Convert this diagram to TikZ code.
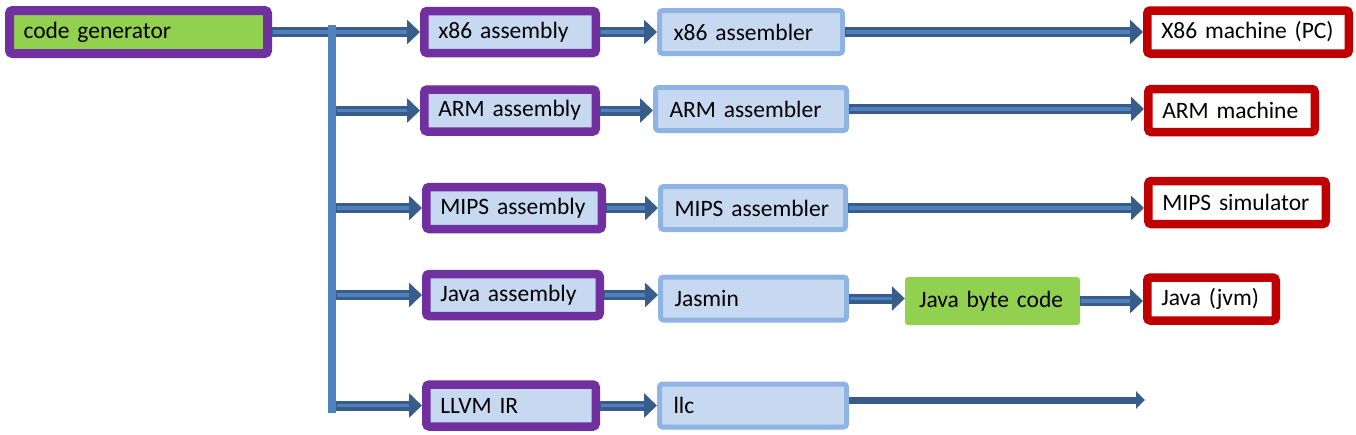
\documentclass[tikz,border=0pt]{standalone}
\usepackage{fontspec}
\setmainfont{Carlito}
\usepackage{tikz}
\usetikzlibrary{positioning, calc, arrows.meta}
\definecolor{genpurple}{HTML}{7030A0}
\definecolor{gengreen}{HTML}{92D050}
\definecolor{toolfill}{HTML}{C6D9F1}
\definecolor{tooledge}{HTML}{8EB4E3}
\definecolor{machred}{HTML}{C00000}
\definecolor{flowdark}{HTML}{385D8A}
\definecolor{flowlight}{HTML}{4F81BD}
\tikzset{
  box/.style={rounded corners=3pt, inner xsep=14pt, inner ysep=0pt, align=left,
    font=\fontsize{23.5}{28}\selectfont},
  gen/.style={box, draw=genpurple, line width=9pt, fill=gengreen, text width=#1, minimum height=43pt},
  asm/.style={box, draw=genpurple, line width=8.5pt, fill=toolfill, text width=#1, minimum height=42pt},
  tool/.style={box, draw=tooledge, line width=5pt, fill=toolfill, text width=#1, minimum height=43pt},
  bytecode/.style={box, fill=gengreen, text width=#1, minimum height=48pt},
  machine/.style={box, draw=machred, line width=8.5pt, fill=white, text width=#1, minimum height=43pt},
  flow/.style={draw=flowdark, line width=10pt, -{Triangle[length=13pt,width=24pt]},
    postaction={draw=flowlight, line width=3.5pt, -, shorten >=13pt, shorten <=1pt}},
  plainflow/.style={draw=flowdark, line width=7pt, -{Triangle[length=9pt,width=17pt]}},
}

\begin{document}
\begin{tikzpicture}[x=1pt, y=-1pt]
    \useasboundingbox (0,0) rectangle (1356,434);

    \node[gen=230pt] (gen) at (138.5,32) {code generator};

    \node[asm=143.5pt] (x86asm)  at (510,32)    {x86 assembly};
    \node[asm=143.5pt] (armasm)  at (510,110.5) {ARM assembly};
    \node[asm=147.5pt] (mipsasm) at (514,208)   {MIPS assembly};
    \node[asm=145.5pt] (javaasm) at (513,295)   {Java assembly};
    \node[asm=141.5pt] (llvm)    at (511,405.5) {LLVM IR};

    \node[tool=155pt] (x86asmr)  at (751,32)    {x86 assembler};
    \node[tool=163pt] (armasmr)  at (751,109)   {ARM assembler};
    \node[tool=157pt] (mipsasmr) at (753,208)   {MIPS assembler};
    \node[tool=158pt] (jasmin)   at (753.5,298.5) {Jasmin};
    \node[tool=159pt] (llc)      at (753,405.5) {llc};

    \node[bytecode=147pt] (jbc) at (992.5,301) {Java byte code};

    \node[machine=173.5pt] (x86pc)   at (1248,32)    {X86 machine (PC)};
    \node[machine=138.5pt] (armm)    at (1231.5,110.5) {ARM machine};
    \node[machine=149.5pt] (mipssim) at (1237,202.5) {MIPS simulator};
    \node[machine=100.5pt] (jvm)     at (1211.5,299) {Java (jvm)};

    \coordinate (bartop) at (332,25);
    \coordinate (barbot) at (332,413);
    \coordinate (llcend) at (1145,400);

    \draw [flow] (gen.east) -- (x86asm.west);
    \draw [flowlight, line width=8pt] (bartop) -- (barbot);

    \path [every edge/.style=flow]
    ([xshift=4pt]bartop |- armasm.west) edge (armasm.west)
    ([xshift=4pt]bartop |- mipsasm.west) edge (mipsasm.west)
    ([xshift=4pt]bartop |- javaasm.west) edge (javaasm.west)
    ([xshift=4pt]bartop |- llvm.west) edge (llvm.west)
    (x86asm.east) edge (x86asm.east -| x86asmr.west)
    (armasm.east) edge (armasm.east -| armasmr.west)
    (mipsasm.east) edge (mipsasm.east -| mipsasmr.west)
    (javaasm.east) edge (javaasm.east -| jasmin.west)
    (llvm.east) edge (llvm.east -| llc.west)
    (x86asmr.east) edge (x86asmr.east -| x86pc.west)
    (armasmr.east) edge (armasmr.east -| armm.west)
    (mipsasmr.east) edge (mipsasmr.east -| mipssim.west)
    (jasmin.east) edge (jasmin.east -| jbc.west)
    (jbc.east) edge (jbc.east -| jvm.west);

    \draw [plainflow] (llc.east |- llcend) -- (llcend);
  \end{tikzpicture}
\end{document}
